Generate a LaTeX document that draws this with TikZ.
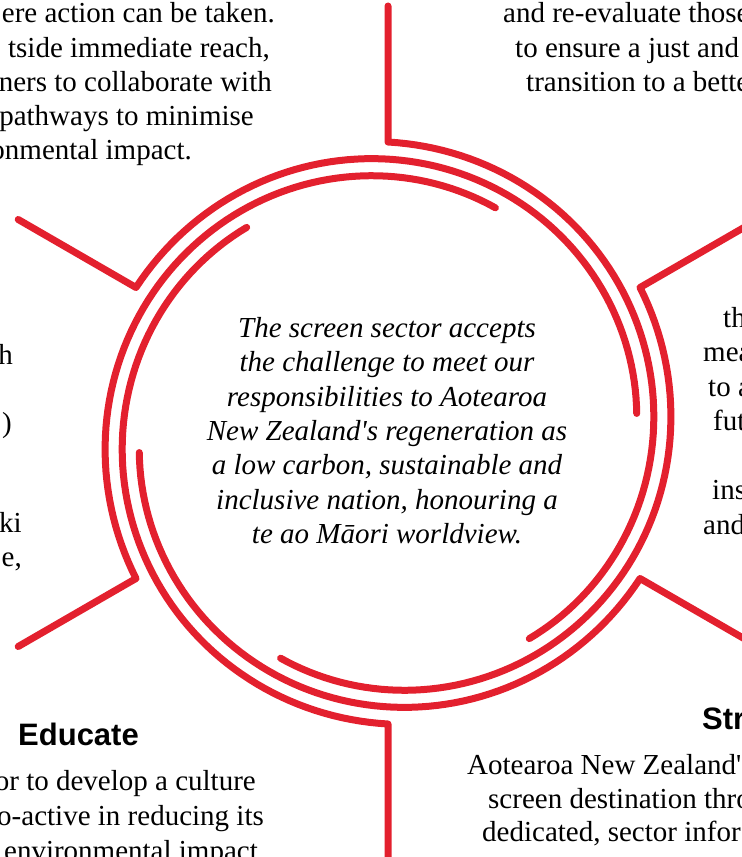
\documentclass[tikz,border=0pt]{standalone}
\usepackage{fontspec}
\setmainfont{Liberation Serif}
\newfontfamily\headfont{Liberation Sans}
\usepackage{tikz}
\definecolor{crimson}{HTML}{E3202E}

\begin{document}
\begin{tikzpicture}[x=1bp, y=1bp]

\useasboundingbox (0,0) rectangle (742,-857);
\clip (0,0) rectangle (742,-857);

% six arms: spoke in to the ring, then clockwise and inwards
\begin{scope}[shift={(388,-433)}, crimson, line width=7bp, line cap=round, line join=round]
\draw (90:427)  -- plot[domain=0:145.5, samples=80] ({90-\x}:{291-0.2852*\x});
\draw (30:427)  -- plot[domain=0:145.5, samples=80] ({30-\x}:{291-0.2852*\x});
\draw (-30:427) -- plot[domain=0:145.5, samples=80] ({-30-\x}:{291-0.2852*\x});
\draw (-90:427) -- plot[domain=0:145.5, samples=80] ({-90-\x}:{291-0.2852*\x});
\draw (210:427) -- plot[domain=0:145.5, samples=80] ({210-\x}:{291-0.2852*\x});
\draw (150:427) -- plot[domain=0:145.5, samples=80] ({150-\x}:{291-0.2852*\x});
\end{scope}

\tikzstyle{every node}=[inner sep=0pt, text=black, font=\fontsize{29bp}{34.5bp}\selectfont]

% the pledge in the middle
\draw (387,-317) node[anchor=north, align=center, font=\fontsize{29bp}{34.4bp}\selectfont\itshape] (pledge)
  {The screen sector accepts\\
   the challenge to meet our\\
   responsibilities to Aotearoa\\
   New Zealand\textquotesingle s regeneration as\\
   a low carbon, sustainable and\\
   inclusive nation, honouring a\\
   te ao M\=aori worldview.};

% top left
\draw (275,-22)  node[anchor=base east] (tl1) {ere action can be taken.}
      (270,-57)  node[anchor=base east] (tl2) {tside immediate reach,}
      (272,-91)  node[anchor=base east] (tl3) {ners to collaborate with}
      (254,-125) node[anchor=base east] (tl4) {pathways to minimise}
      (192,-159) node[anchor=base east] (tl5) {onmental impact.};

% top right
\draw (503,-22) node[anchor=base west] (tr1) {and re-evaluate those}
      (515,-57) node[anchor=base west] (tr2) {to ensure a just and}
      (526,-91) node[anchor=base west] (tr3) {transition to a bette};

% right
\draw (723,-327) node[anchor=base west] (rt1) {th}
      (703,-361) node[anchor=base west] (rt2) {mea}
      (708,-396) node[anchor=base west] (rt3) {to a}
      (713,-430) node[anchor=base west] (rt4) {fut}
      (712,-499) node[anchor=base west] (rt5) {ins}
      (703,-534) node[anchor=base west] (rt6) {and};

% left
\draw (13,-364) node[anchor=base east] (lt1) {h}
      (12,-432) node[anchor=base east] (lt2) {)}
      (22,-532) node[anchor=base east] (lt3) {ki}
      (22,-566) node[anchor=base east] (lt4) {e,};

% educate
\draw (18,-745)  node[anchor=base west, font=\fontsize{31bp}{36bp}\selectfont\headfont\bfseries] (educate) {Educate}
      (256,-790) node[anchor=base east] (ed1) {or to develop a culture}
      (264,-825) node[anchor=base east] (ed2) {o-active in reducing its}
      (258,-860) node[anchor=base east] (ed3) {environmental impact};

% strengthen
\draw (702,-729) node[anchor=base west, font=\fontsize{31bp}{36bp}\selectfont\headfont\bfseries] (strength) {Str}
      (467,-774) node[anchor=base west] (st1) {Aotearoa New Zealand\textquotesingle s}
      (488,-808) node[anchor=base west] (st2) {screen destination thro}
      (482,-841) node[anchor=base west] (st3) {dedicated, sector infor};

\end{tikzpicture}
\end{document}
